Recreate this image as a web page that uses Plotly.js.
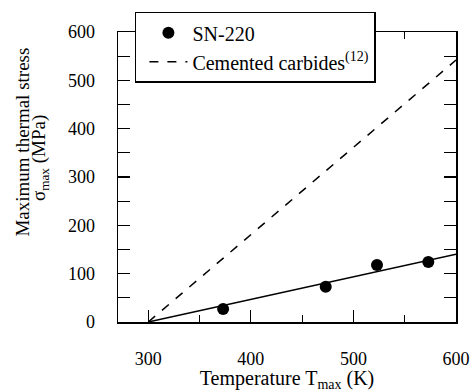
<!DOCTYPE html>
<html>
<head>
<meta charset="utf-8">
<script src="https://cdn.plot.ly/plotly-3.0.1.min.js"></script>
<style>html,body{margin:0;padding:0;background:#fff;}#chart{width:473px;height:392px;}</style>
</head>
<body>
<div id="chart"></div>
<script>
// Data
const snTemp = [373, 473, 523, 573];
const snStress = [27, 73, 118, 124];
const fitTemp = [300, 600];
const fitStress = [0, 140];
const carbideTemp = [300, 600];
const carbideStress = [0, 542];
const xTicks = [300, 400, 500, 600];
const yTicks = [0, 100, 200, 300, 400, 500, 600];
const yTitleLines = ['Maximum thermal stress', 'σ<sub>max</sub> (MPa)'];

const FAMILY = 'Liberation Serif, Times New Roman, serif';
function mkFont(s) { return {family: FAMILY, size: s || 18, color: '#000'}; }

const traces = [
  {x: snTemp, y: snStress, mode: 'markers', name: 'SN-220',
   marker: {color: '#000', size: 12}},
  {x: fitTemp, y: fitStress, mode: 'lines', showlegend: false,
   line: {color: '#000', width: 1.5}},
  {x: carbideTemp, y: carbideStress, mode: 'lines', name: 'Cemented carbides<sup>(12)</sup>',
   line: {color: '#000', width: 1.5, dash: 'dash'}}
];

const layout = {
  width: 473, height: 392,
  margin: {l: 118, r: 17, t: 32, b: 70},
  paper_bgcolor: '#fff', plot_bgcolor: '#fff',
  font: mkFont(18),
  showlegend: true,
  legend: {x: 0.05, y: 1.07, xanchor: 'left', yanchor: 'top',
    bgcolor: '#fff', bordercolor: '#000', borderwidth: 1.5,
    font: mkFont(20), tracegroupgap: 0, itemwidth: 38, indentation: 8},
  xaxis: {
    range: [270.5, 600], tickvals: xTicks, ticktext: xTicks.map(String),
    tickfont: mkFont(18),
    ticks: 'inside', ticklen: 12, tickwidth: 1.2, tickcolor: '#000',
    minor: {dtick: 50, tick0: 300, ticks: 'inside', ticklen: 7, tickwidth: 1.2, tickcolor: '#000'},
    showline: true, linecolor: '#000', linewidth: 1.5, mirror: 'ticks',
    showgrid: false, zeroline: false,
    ticklabelstandoff: 20,
    title: {text: 'Temperature T<sub>max</sub> (K)', font: mkFont(20), standoff: 7}
  },
  yaxis: {
    range: [0, 600], tickvals: yTicks, ticktext: yTicks.map(String),
    tickfont: mkFont(18),
    ticks: 'inside', ticklen: 12, tickwidth: 1.2, tickcolor: '#000',
    minor: {dtick: 50, tick0: 0, ticks: 'inside', ticklen: 12, tickwidth: 1.2, tickcolor: '#000'},
    showline: true, linecolor: '#000', linewidth: 1.5, mirror: 'ticks',
    showgrid: false, zeroline: false,
    ticklabelstandoff: 18
  },
  annotations: [
    {text: yTitleLines[0], xref: 'paper', yref: 'paper', x: -0.283, y: 0.62,
     xanchor: 'center', yanchor: 'middle', textangle: -90, showarrow: false, font: mkFont(19)},
    {text: yTitleLines[1], xref: 'paper', yref: 'paper', x: -0.230, y: 0.566,
     xanchor: 'center', yanchor: 'middle', textangle: -90, showarrow: false, font: mkFont(19)}
  ]
};

Plotly.newPlot('chart', traces, layout, {staticPlot: true, displayModeBar: false});
</script>
</body>
</html>
